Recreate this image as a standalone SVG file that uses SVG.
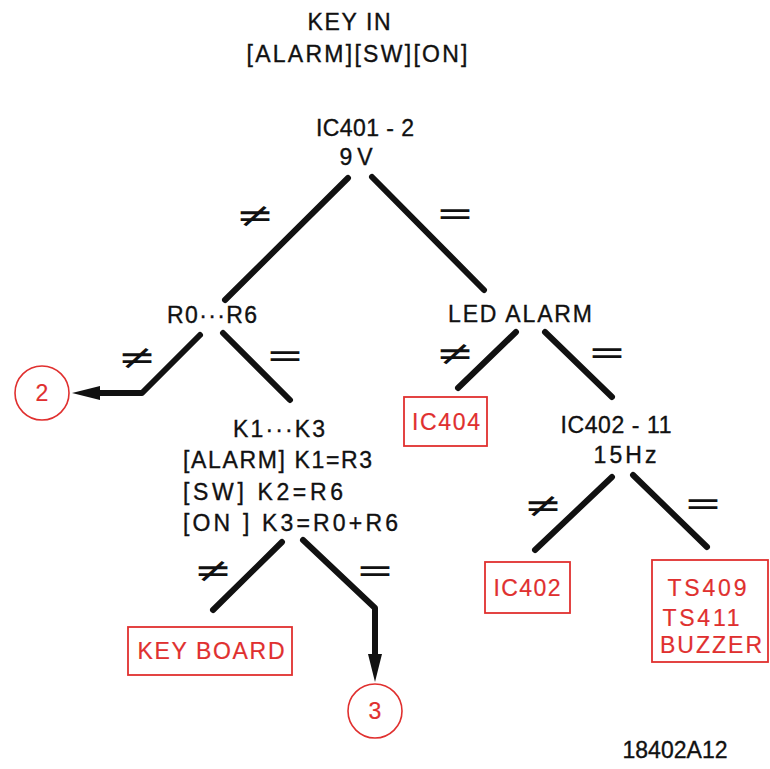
<svg xmlns="http://www.w3.org/2000/svg" width="770" height="769" viewBox="0 0 770 769">
<style>
.t{font-family:"Liberation Sans",Arial,sans-serif;font-size:23px;fill:#111;stroke:#111;stroke-width:0.35;text-anchor:middle}
.l{text-anchor:start}
.r{fill:#e0302f;stroke:#e0302f;stroke-width:0.2}
.sym{font-family:"DejaVu Sans",sans-serif;font-size:34px;fill:#111;text-anchor:middle}
.ln{stroke:#111;stroke-width:6;stroke-linecap:round;stroke-linejoin:round;fill:none}
.box{fill:none;stroke:#e0302f;stroke-width:1.8}
.ah{fill:#111}
</style>
<rect width="770" height="769" fill="#fff"/>
<g id="title">
<text class="t" x="349" y="30" textLength="83" lengthAdjust="spacing">KEY IN</text>
<text class="t" x="357" y="62" textLength="221" lengthAdjust="spacing">[ALARM][SW][ON]</text>
</g>
<g id="n_ic401">
<text class="t" x="365" y="136" textLength="98" lengthAdjust="spacing">IC401 - 2</text>
<text class="t" x="356" y="165" textLength="33" lengthAdjust="spacing">9V</text>
</g>
<g id="n_r0r6"><text class="t" x="212" y="323" textLength="90" lengthAdjust="spacing">R0···R6</text></g>
<g id="n_led"><text class="t" x="520" y="322" textLength="144" lengthAdjust="spacing">LED ALARM</text></g>
<g id="n_k1k3">
<text class="t" x="279" y="437" textLength="92" lengthAdjust="spacing">K1···K3</text>
<text class="t l" x="183" y="468" textLength="189" lengthAdjust="spacing">[ALARM] K1=R3</text>
<text class="t l" x="183" y="500" textLength="160" lengthAdjust="spacing">[SW] K2=R6</text>
<text class="t l" x="183" y="531" textLength="215" lengthAdjust="spacing">[ON ] K3=R0+R6</text>
</g>
<g id="n_ic402_11">
<text class="t" x="616" y="433" textLength="111" lengthAdjust="spacing">IC402 - 11</text>
<text class="t" x="625" y="463" textLength="63" lengthAdjust="spacing">15Hz</text>
</g>
<g id="n_ic404">
<rect class="box" x="404" y="397" width="83" height="49"/>
<text class="t r" x="446" y="430" textLength="68" lengthAdjust="spacing">IC404</text>
</g>
<g id="n_keyboard">
<rect class="box" x="128" y="627" width="164" height="48"/>
<text class="t r" x="211" y="659" textLength="147" lengthAdjust="spacing">KEY BOARD</text>
</g>
<g id="n_ic402">
<rect class="box" x="485" y="562" width="85" height="51"/>
<text class="t r" x="527" y="596" textLength="67" lengthAdjust="spacing">IC402</text>
</g>
<g id="n_ts">
<rect class="box" x="652" y="560" width="116" height="102"/>
<text class="t r" x="707" y="596" textLength="79" lengthAdjust="spacing">TS409</text>
<text class="t r" x="701" y="626" textLength="77" lengthAdjust="spacing">TS411</text>
<text class="t r" x="711" y="653" textLength="102" lengthAdjust="spacing">BUZZER</text>
</g>
<g id="n_c2">
<circle cx="42" cy="393" r="27" fill="none" stroke="#e0302f" stroke-width="1.6"/>
<text class="t r" x="42" y="401">2</text>
</g>
<g id="n_c3">
<circle cx="375" cy="711" r="27" fill="none" stroke="#e0302f" stroke-width="1.6"/>
<text class="t r" x="375" y="719">3</text>
</g>
<g id="code"><text class="t" x="675" y="758" textLength="105" lengthAdjust="spacing">18402A12</text></g>
<g id="connectors">
<path class="ln" d="M348 178 L225 300"/>
<path class="ln" d="M372 177 L484 290"/>
<path class="ln" d="M200 335 L142 393 L98 393"/>
<polygon class="ah" points="72,393 100,386 100,400"/>
<path class="ln" d="M223 333 L290 400"/>
<path class="ln" d="M516 332 L458 388"/>
<path class="ln" d="M545 332 L612 397"/>
<path class="ln" d="M282 542 L213 610"/>
<path class="ln" d="M303 540 L375 608 L375 656"/>
<polygon class="ah" points="375,682 368,654 382,654"/>
<path class="ln" d="M612 477 L535 550"/>
<path class="ln" d="M633 475 L707 547"/>
<text class="sym" transform="translate(255,227) scale(1.35,1)">≠</text>
<text class="sym" transform="translate(455,225) scale(1.35,1)">=</text>
<text class="sym" transform="translate(137,369) scale(1.35,1)">≠</text>
<text class="sym" transform="translate(285,367) scale(1.35,1)">=</text>
<text class="sym" transform="translate(455,365) scale(1.35,1)">≠</text>
<text class="sym" transform="translate(607,364) scale(1.35,1)">=</text>
<text class="sym" transform="translate(213,582) scale(1.35,1)">≠</text>
<text class="sym" transform="translate(375,582) scale(1.35,1)">=</text>
<text class="sym" transform="translate(543,517) scale(1.35,1)">≠</text>
<text class="sym" transform="translate(703,515) scale(1.35,1)">=</text>
</g>
</svg>
